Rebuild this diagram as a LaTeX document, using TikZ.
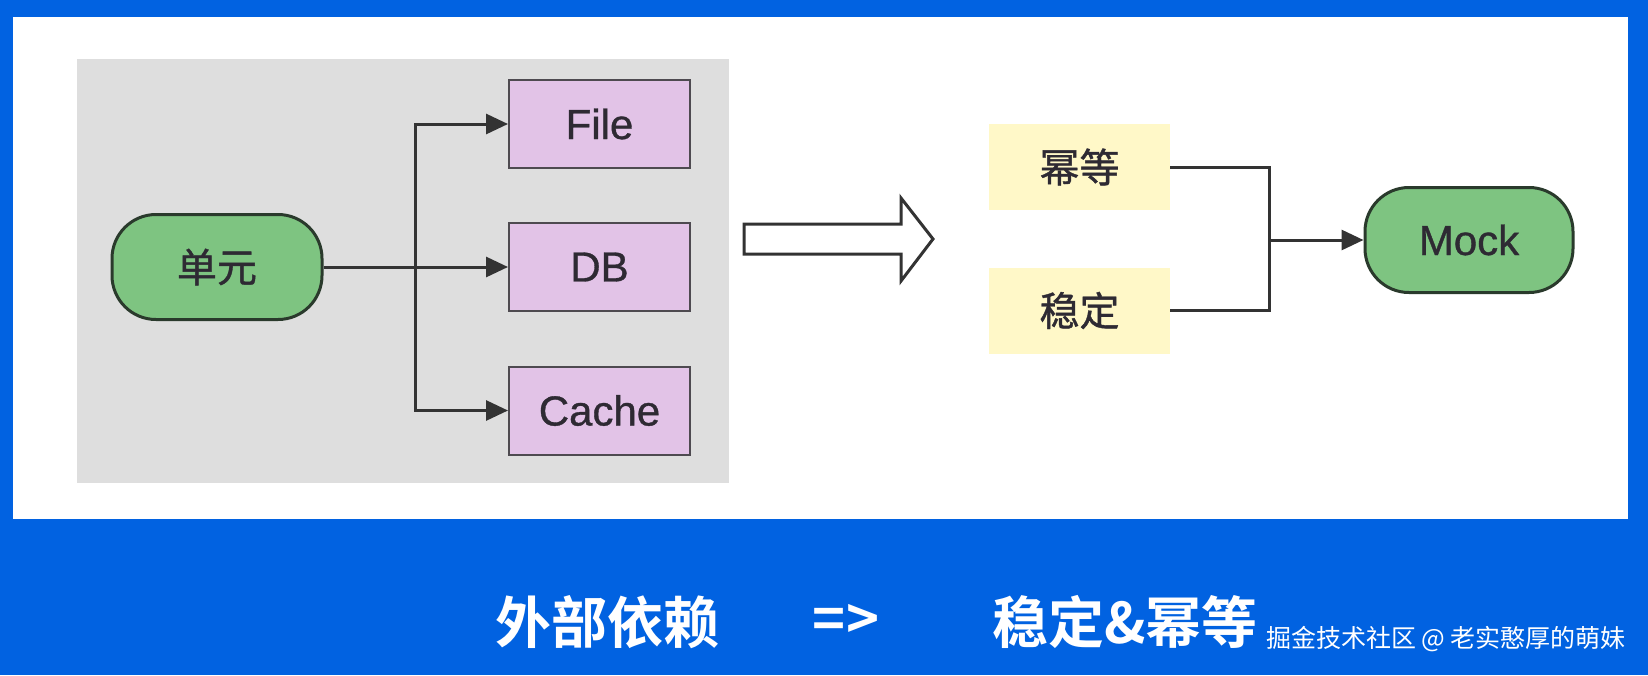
\documentclass[tikz,border=0pt]{standalone}
\usepackage{fontspec}
\setmainfont{Liberation Sans}
\newfontfamily\boxlat[FakeBold=0.8]{Liberation Sans}
\newfontfamily\cjk{Noto Sans CJK SC}
\newfontfamily\boxcjk[FakeBold=1]{Noto Sans CJK SC}
\newfontfamily\cjkb{Noto Sans CJK SC Bold}
\usetikzlibrary{arrows.meta}
\definecolor{bgblue}{HTML}{0162E1}
\definecolor{panelgray}{HTML}{DEDEDE}
\definecolor{pinkfill}{HTML}{E2C3E7}
\definecolor{pinkdraw}{HTML}{4E4A50}
\definecolor{greenfill}{HTML}{7EC481}
\definecolor{greendraw}{HTML}{2A3A2C}
\definecolor{yellowfill}{HTML}{FFF8C8}
\definecolor{linecol}{HTML}{333333}
\definecolor{txtcol}{HTML}{2E2A33}
\tikzset{
  pinkbox/.style={draw=pinkdraw, line width=2pt, fill=pinkfill, minimum width=181pt, minimum height=88pt, inner sep=0pt, text=txtcol, font=\boxlat\fontsize{42}{48}\selectfont},
  greenbox/.style={draw=greendraw, line width=3pt, fill=greenfill, rounded corners=44pt, minimum width=208pt, minimum height=105pt, inner sep=0pt, text=txtcol},
  yellowbox/.style={fill=yellowfill, minimum width=181pt, minimum height=86pt, inner sep=0pt, text=txtcol, font=\boxcjk\fontsize{40}{46}\selectfont},
  conn/.style={draw=linecol, line width=3pt},
  connarrow/.style={conn, -{Triangle[length=22pt,width=20pt]}},
  bigtxt/.style={text=white, inner sep=0pt, font=\cjkb\fontsize{56}{62}\selectfont},
  wm/.style={text=white, inner sep=0pt, font=\cjk\fontsize{25}{30}\selectfont}
}
\begin{document}
\begin{tikzpicture}[x=1pt,y=-1pt]
\fill[bgblue] (0,0) rectangle (1648,675);
\useasboundingbox (0,0) rectangle (1648,675);
\fill[white] (13,17) rectangle (1628,519);
\fill[panelgray] (77,59) rectangle (729,483);

% left group
\node[greenbox, font=\boxcjk\fontsize{40}{46}\selectfont, minimum width=210pt] (unit) at (217,267) {单元};
\node[pinkbox] (file) at (599.5,124) {File};
\node[pinkbox] (db) at (599.5,267) {DB};
\node[pinkbox] (cache) at (599.5,410.5) {Cache};
\coordinate (split) at (415,267);
\draw[connarrow] (unit.east) -- (db.west);
\draw[connarrow] (split) |- (file.west);
\draw[connarrow] (split) |- (cache.west);

% big hollow arrow
\draw[line width=3pt, draw=linecol, fill=white, line join=miter]
  (744,224) -- (901,224) -- (901,198) -- (933,239) -- (901,281) -- (901,254) -- (744,254) -- cycle;

% right group
\node[yellowbox] (mideng) at (1079.5,167) {幂等};
\node[yellowbox] (wending) at (1079.5,310.5) {稳定};
\node[greenbox, font=\boxlat\fontsize{42}{48}\selectfont] (mock) at (1469,240) {Mock};
\coordinate (merge) at (1269,240);
\draw[conn] (mideng.east) -| (merge);
\draw[conn] (wending.east) -| (merge);
\draw[connarrow] (merge) -- (mock.west);

% bottom caption
\node[bigtxt] (t1) at (607,622) {外部依赖};
\node[bigtxt] (t2) at (846,622) {=>};
\node[bigtxt] (t3) at (1125,622) {稳定\&幂等};
\node[wm] (wmk) at (1446,639) {掘金技术社区 @ 老实憨厚的萌妹};
\end{tikzpicture}
\end{document}
